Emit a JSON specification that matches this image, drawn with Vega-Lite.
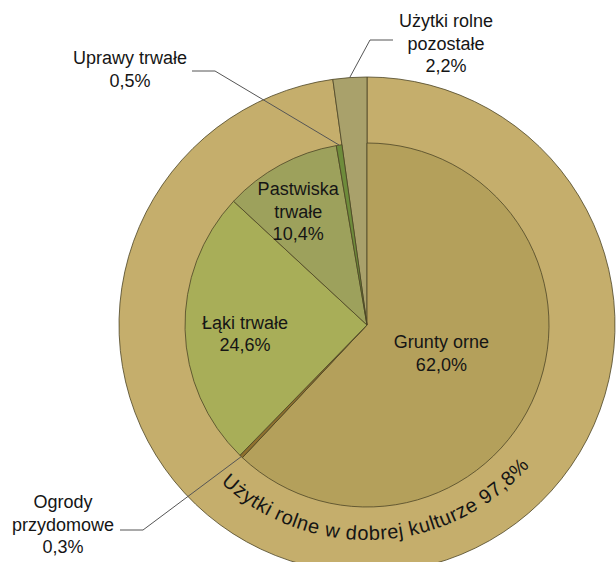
{
  "$schema": "https://vega.github.io/schema/vega-lite/v6.json",
  "width": 498,
  "height": 474,
  "autosize": {"type": "none"},
  "padding": {"left": 118, "top": 88, "right": 0, "bottom": 0},
  "background": "white",
  "config": {"view": {"stroke": null}, "text": {"font": "Liberation Sans, Arial"}},
  "datasets": {
    "outer": [
      {"cat": "Użytki rolne w dobrej kulturze", "v": 97.8, "o": 1},
      {"cat": "Użytki rolne pozostałe", "v": 2.2, "o": 2}
    ],
    "inner": [
      {"cat": "Grunty orne", "v": 62.0, "o": 1, "lab": "Grunty orne\n62,0%"},
      {"cat": "Ogrody przydomowe", "v": 0.3, "o": 2, "lab": ""},
      {"cat": "Łąki trwałe", "v": 24.6, "o": 3, "lab": "Łąki trwałe\n24,6%"},
      {"cat": "Pastwiska trwałe", "v": 10.4, "o": 4, "lab": "Pastwiska\ntrwałe\n10,4%"},
      {"cat": "Uprawy trwałe", "v": 0.5, "o": 5, "lab": ""}
    ],
    "chars": [
      {"c": "U", "i": 0}, {"c": "ż", "i": 1}, {"c": "y", "i": 2}, {"c": "t", "i": 3}, {"c": "k", "i": 4}, {"c": "i", "i": 5},
      {"c": " ", "i": 6}, {"c": "r", "i": 7}, {"c": "o", "i": 8}, {"c": "l", "i": 9}, {"c": "n", "i": 10}, {"c": "e", "i": 11},
      {"c": " ", "i": 12}, {"c": "w", "i": 13}, {"c": " ", "i": 14}, {"c": "d", "i": 15}, {"c": "o", "i": 16}, {"c": "b", "i": 17},
      {"c": "r", "i": 18}, {"c": "e", "i": 19}, {"c": "j", "i": 20}, {"c": " ", "i": 21}, {"c": "k", "i": 22}, {"c": "u", "i": 23},
      {"c": "l", "i": 24}, {"c": "t", "i": 25}, {"c": "u", "i": 26}, {"c": "r", "i": 27}, {"c": "z", "i": 28}, {"c": "e", "i": 29},
      {"c": " ", "i": 30}, {"c": "9", "i": 31}, {"c": "7", "i": 32}, {"c": ",", "i": 33}, {"c": "8", "i": 34}, {"c": "%", "i": 35}
    ],
    "ann": [
      {"lab": "Uprawy trwałe\n0,5%", "x": -237, "y": 266},
      {"lab": "Użytki rolne\npozostałe\n2,2%", "x": 79, "y": 303},
      {"lab": "Ogrody\nprzydomowe\n0,3%", "x": -304, "y": -178}
    ],
    "lead": [
      {"id": "u", "k": 1, "x": -175, "y": 254},
      {"id": "u", "k": 2, "x": -152, "y": 254},
      {"id": "u", "k": 3, "x": -27.8, "y": 179.9},
      {"id": "p", "k": 1, "x": 26, "y": 285},
      {"id": "p", "k": 2, "x": 3, "y": 285},
      {"id": "p", "k": 3, "x": -17.3, "y": 247.4},
      {"id": "g", "k": 1, "x": -247, "y": -205},
      {"id": "g", "k": 2, "x": -224, "y": -205},
      {"id": "g", "k": 3, "x": -125.7, "y": -131.6}
    ]
  },
  "layer": [
    {
      "data": {"name": "outer"},
      "mark": {"type": "arc", "outerRadius": 248, "stroke": "#4d4526", "strokeWidth": 0.8},
      "encoding": {
        "theta": {"field": "v", "type": "quantitative", "stack": true, "scale": {"domain": [0, 100]}},
        "order": {"field": "o", "type": "quantitative"},
        "color": {
          "field": "cat", "type": "nominal", "legend": null,
          "scale": {
            "domain": ["Użytki rolne w dobrej kulturze", "Użytki rolne pozostałe", "Grunty orne", "Ogrody przydomowe", "Łąki trwałe", "Pastwiska trwałe", "Uprawy trwałe"],
            "range": ["#C5AE6C", "#A9A16B", "#B4A05B", "#8E6F2E", "#A8AE58", "#9DA15C", "#6E8C3B"]
          }
        }
      }
    },
    {
      "data": {"name": "inner"},
      "mark": {"type": "arc", "outerRadius": 182, "stroke": "#4d4526", "strokeWidth": 0.8},
      "encoding": {
        "theta": {"field": "v", "type": "quantitative", "stack": true, "scale": {"domain": [0, 100]}},
        "order": {"field": "o", "type": "quantitative"},
        "color": {
          "field": "cat", "type": "nominal", "legend": null,
          "scale": {
            "domain": ["Użytki rolne w dobrej kulturze", "Użytki rolne pozostałe", "Grunty orne", "Ogrody przydomowe", "Łąki trwałe", "Pastwiska trwałe", "Uprawy trwałe"],
            "range": ["#C5AE6C", "#A9A16B", "#B4A05B", "#8E6F2E", "#A8AE58", "#9DA15C", "#6E8C3B"]
          }
        }
      }
    },
    {
      "data": {"name": "inner"},
      "mark": {
        "type": "text",
        "radius": {"expr": "datum.cat === 'Grunty orne' ? 80 : (datum.cat === 'Łąki trwałe' ? 122 : 132)"},
        "dx": {"expr": "datum.cat === 'Pastwiska trwałe' ? -6 : 0"},
        "dy": {"expr": "datum.cat === 'Pastwiska trwałe' ? -18.5 : (datum.cat === 'Łąki trwałe' ? -4.5 : -11.25)"},
        "fontSize": 18, "lineBreak": "\n", "lineHeight": 22.5,
        "align": "center", "baseline": "middle", "color": "#151515"
      },
      "encoding": {
        "theta": {"field": "v", "type": "quantitative", "stack": true, "scale": {"domain": [0, 100]}},
        "order": {"field": "o", "type": "quantitative"},
        "detail": {"field": "cat", "type": "nominal"},
        "text": {"field": "lab"}
      }
    },
    {
      "data": {"name": "chars"},
      "mark": {"type": "text", "radius": 209, "fontSize": 20, "align": "center", "baseline": "middle", "color": "#151515"},
      "encoding": {
        "theta": {
          "field": "i", "type": "quantitative", "stack": null,
          "scale": {
            "domain": [0, 1, 2, 3, 4, 5, 6, 7, 8, 9, 10, 11, 12, 13, 14, 15, 16, 17, 18, 19, 20, 21, 22, 23, 24, 25, 26, 27, 28, 29, 30, 31, 32, 33, 34, 35],
            "range": [3.8554, 3.7947, 3.7449, 3.7062, 3.6675, 3.6315, 3.6067, 3.5764, 3.5320, 3.4935, 3.4547, 3.3994, 3.3578, 3.3081, 3.2584, 3.2168, 3.1615, 3.1062, 3.0620, 3.0179, 2.9791, 2.9541, 2.9156, 2.8630, 2.8243, 2.7993, 2.7580, 2.7136, 2.6723, 2.6197, 2.5782, 2.5367, 2.4813, 2.4400, 2.3984, 2.3265]
          }
        },
        "angle": {
          "field": "i", "type": "quantitative",
          "scale": {
            "domain": [0, 1, 2, 3, 4, 5, 6, 7, 8, 9, 10, 11, 12, 13, 14, 15, 16, 17, 18, 19, 20, 21, 22, 23, 24, 25, 26, 27, 28, 29, 30, 31, 32, 33, 34, 35],
            "range": [40.9, 37.42, 34.57, 32.35, 30.13, 28.07, 26.65, 24.91, 22.37, 20.16, 17.94, 14.77, 12.39, 9.54, 6.69, 4.31, 1.14, -2.03, -4.56, -7.09, -9.31, -10.74, -12.95, -15.96, -18.18, -19.61, -21.98, -24.52, -26.89, -29.9, -32.28, -34.66, -37.83, -40.2, -42.58, -46.7]
          }
        },
        "text": {"field": "c"}
      }
    },
    {
      "data": {"name": "lead"},
      "mark": {"type": "line", "color": "#555555", "strokeWidth": 1},
      "encoding": {
        "x": {"field": "x", "type": "quantitative", "scale": {"domain": [-249, 249], "nice": false, "zero": false}, "axis": null},
        "y": {"field": "y", "type": "quantitative", "scale": {"domain": [-237, 237], "nice": false, "zero": false}, "axis": null},
        "detail": {"field": "id", "type": "nominal"},
        "order": {"field": "k", "type": "quantitative"}
      }
    },
    {
      "data": {"name": "ann"},
      "mark": {"type": "text", "fontSize": 18, "lineBreak": "\n", "lineHeight": 22.5, "align": "center", "baseline": "middle", "color": "#151515"},
      "encoding": {
        "x": {"field": "x", "type": "quantitative", "scale": {"domain": [-249, 249], "nice": false, "zero": false}, "axis": null},
        "y": {"field": "y", "type": "quantitative", "scale": {"domain": [-237, 237], "nice": false, "zero": false}, "axis": null},
        "text": {"field": "lab"}
      }
    }
  ],
  "resolve": {"scale": {"theta": "independent"}}
}
